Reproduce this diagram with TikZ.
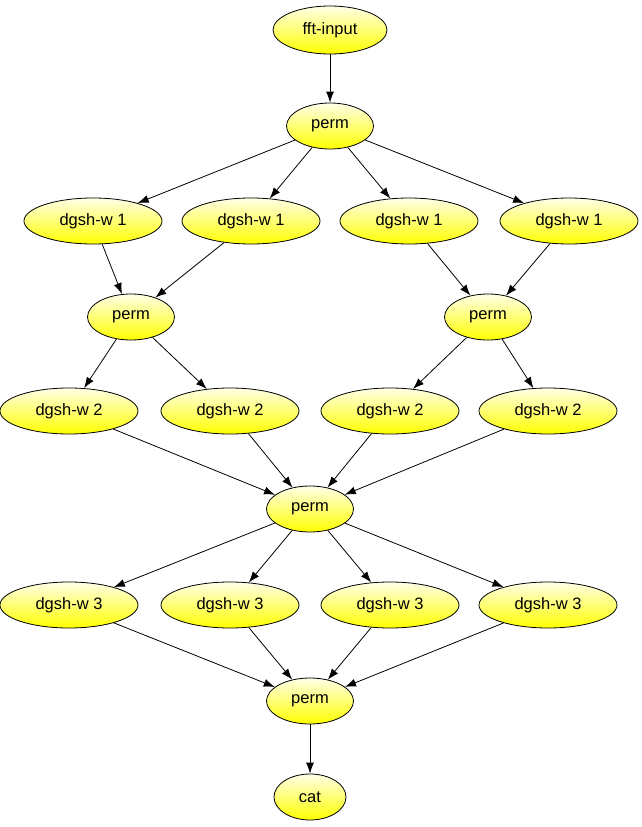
\documentclass[tikz,border=0pt]{standalone}
\usepackage{fontspec}
\setmainfont{Liberation Sans}
\usetikzlibrary{arrows.meta,shapes.geometric}

\begin{document}
\begin{tikzpicture}[
  x=1pt,
  y=-1pt,
  >={Latex[length=11pt,width=8pt]},
  proc/.style={
    ellipse,
    draw,
    line width=0.8pt,
    top color=yellow!10!white,
    bottom color=yellow,
    minimum width=138pt,
    minimum height=46pt,
    inner sep=0pt,
    font=\fontsize{16.5pt}{18pt}\selectfont
  },
  edge/.style={->,line width=0.8pt}
]
  \useasboundingbox (0,0) rectangle (642,827);

  \node[proc,minimum width=114pt,minimum height=48pt] (input) at (330,30) {fft-input};
  \node[proc,minimum width=87pt] (perma) at (330,126) {perm};

  \node[proc] (wa1) at (93,221) {dgsh-w 1};
  \node[proc] (wa2) at (251,221) {dgsh-w 1};
  \node[proc] (wa3) at (409,221) {dgsh-w 1};
  \node[proc] (wa4) at (569,221) {dgsh-w 1};

  \node[proc,minimum width=87pt] (permb) at (131,317) {perm};
  \node[proc,minimum width=87pt] (permc) at (488,317) {perm};

  \node[proc] (wb1) at (69,411) {dgsh-w 2};
  \node[proc] (wb2) at (230,411) {dgsh-w 2};
  \node[proc] (wb3) at (390,411) {dgsh-w 2};
  \node[proc] (wb4) at (548,411) {dgsh-w 2};

  \node[proc,minimum width=87pt] (permd) at (310,509) {perm};

  \node[proc] (wc1) at (69,605) {dgsh-w 3};
  \node[proc] (wc2) at (230,605) {dgsh-w 3};
  \node[proc] (wc3) at (390,605) {dgsh-w 3};
  \node[proc] (wc4) at (548,605) {dgsh-w 3};

  \node[proc,minimum width=87pt] (perme) at (310,701) {perm};
  \node[proc,minimum width=72pt] (cat) at (310,797) {cat};

  \draw[edge] (input) -- (perma);
  \foreach \w in {wa1,wa2,wa3,wa4}
    \draw[edge] (perma) -- (\w);
  \draw[edge] (wa1) -- (permb);
  \draw[edge] (wa2) -- (permb);
  \draw[edge] (wa3) -- (permc);
  \draw[edge] (wa4) -- (permc);
  \draw[edge] (permb) -- (wb1);
  \draw[edge] (permb) -- (wb2);
  \draw[edge] (permc) -- (wb3);
  \draw[edge] (permc) -- (wb4);
  \foreach \w in {wb1,wb2,wb3,wb4}
    \draw[edge] (\w) -- (permd);
  \foreach \w in {wc1,wc2,wc3,wc4}
    \draw[edge] (permd) -- (\w);
  \foreach \w in {wc1,wc2,wc3,wc4}
    \draw[edge] (\w) -- (perme);
  \draw[edge] (perme) -- (cat);
\end{tikzpicture}
\end{document}
